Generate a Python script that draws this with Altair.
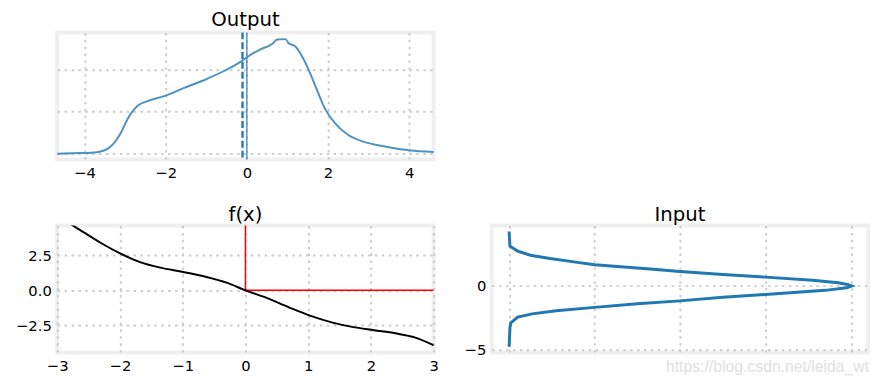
import altair as alt
import pandas as pd

FONT = "DejaVu Sans"
W, H = 382, 129
LS = 15  # tick label size

# ---- Output panel (density of f(input)) ----
out_x = [-4.67, -4.3, -3.82, -3.5, -3.3, -3.13, -2.93, -2.69, -2.45, -2.04, -1.56, -0.99,
         -0.5, -0.14, 0.02, 0.30, 0.63, 0.75, 0.95, 1.03, 1.19, 1.44, 1.68, 1.92, 2.17,
         2.49, 2.89, 3.46, 4.0, 4.6]
out_y = [0.0, 0.001, 0.002, 0.008, 0.022, 0.045, 0.084, 0.114, 0.125, 0.137, 0.156, 0.178,
         0.2, 0.22, 0.231, 0.247, 0.262, 0.272, 0.273, 0.263, 0.256, 0.217, 0.163, 0.108,
         0.073, 0.045, 0.028, 0.016, 0.008, 0.004]
out_mean = [-0.107]
out_zero = [0.0]

# ---- f(x) panel ----
fx_x = [-3.0, -2.71, -2.31, -2.0, -1.68, -1.36, -0.99, -0.62, -0.30, 0.0, 0.33, 0.70, 1.04,
        1.39, 1.70, 2.05, 2.39, 2.71, 3.0]
fx_y = [5.35, 4.55, 3.42, 2.66, 2.03, 1.63, 1.32, 0.96, 0.55, 0.0, -0.53, -1.24, -1.84,
        -2.32, -2.63, -2.87, -3.09, -3.40, -3.95]
red_x = [0.0, 0.0, 3.0]
red_y = [5.0, 0.0, 0.0]

# ---- Input panel (density of input, drawn sideways) ----
in_val = [4.28, 3.13, 2.74, 2.41, 2.15, 1.85, 1.67, 1.33, 1.13, 0.90, 0.69, 0.45, 0.25, 0.10,
          0.0, -0.15, -0.35, -0.67, -0.90, -1.18, -1.40, -1.69, -1.95, -2.20, -2.46, -2.90,
          -3.28, -4.80]
in_dens = [0.0, 0.001, 0.01, 0.025, 0.048, 0.08, 0.1, 0.165, 0.2, 0.25, 0.3, 0.355, 0.385,
           0.397, 0.401, 0.395, 0.37, 0.3, 0.25, 0.2, 0.15, 0.1, 0.055, 0.027, 0.01, 0.002,
           0.001, 0.0]

watermark = "https://blog.csdn.net/leida_wt"


def ttl(t):
    return alt.TitleParams(t, font=FONT, fontSize=20, fontWeight="normal", color="black",
                           anchor="middle", offset=1)


def ax(values, fmt=None, labels=True):
    kw = dict(values=values, title=None, labels=labels, domain=False, ticks=False,
              labelFont=FONT, labelFontSize=LS, labelColor="black", labelPadding=6,
              labelFlush=False, labelOverlap=False,
              gridColor="#cbcbcb", gridDash=[2.5, 4.5], gridWidth=2)
    if fmt:
        kw["format"] = fmt
    return alt.Axis(**kw)


# Output
out_df = pd.DataFrame({"x": out_x, "y": out_y})
ox = alt.Scale(domain=[-4.67, 4.60], nice=False, zero=False)
oy = alt.Scale(domain=[-0.014, 0.289], nice=False, zero=False)
output_line = alt.Chart(out_df).mark_line(color="#4c92c3", strokeWidth=2,
                                          interpolate="monotone").encode(
    x=alt.X("x:Q", scale=ox, axis=ax([-4, -2, 0, 2, 4], "d")),
    y=alt.Y("y:Q", scale=oy, axis=ax([0, 0.1, 0.2], labels=False)),
)
mean_rule = alt.Chart(pd.DataFrame({"x": out_mean})).mark_rule(
    color="#2b7bba", strokeWidth=2.5, strokeDash=[7, 3]).encode(x=alt.X("x:Q", scale=ox))
zero_rule = alt.Chart(pd.DataFrame({"x": out_zero})).mark_rule(
    color="#3a85bf", strokeWidth=1.3).encode(x=alt.X("x:Q", scale=ox))
output = alt.layer(output_line, mean_rule, zero_rule).properties(
    width=W, height=H, title=ttl("Output"))

# blank cell
blank = alt.Chart(pd.DataFrame({"x": [0]})).mark_text(text="").encode(
    x=alt.value(0)).properties(width=W, height=H, view=alt.ViewBackground(stroke="transparent"))

# f(x)
fx_df = pd.DataFrame({"x": fx_x, "y": fx_y})
red_df = pd.DataFrame({"x": red_x, "y": red_y, "o": list(range(len(red_x)))})
fxs = alt.Scale(domain=[-3, 3], nice=False, zero=False)
fys = alt.Scale(domain=[-4.48, 4.66], nice=False, zero=False)
fx_line = alt.Chart(fx_df).mark_line(color="black", strokeWidth=2, clip=True,
                                     interpolate="monotone").encode(
    x=alt.X("x:Q", scale=fxs, axis=ax([-3, -2, -1, 0, 1, 2, 3], "d")),
    y=alt.Y("y:Q", scale=fys, axis=ax([-2.5, 0, 2.5], ".1f")),
)
red_line = alt.Chart(red_df).mark_line(color="#ff0000", strokeWidth=1.5, clip=True).encode(
    x=alt.X("x:Q", scale=fxs), y=alt.Y("y:Q", scale=fys), order="o:Q")
fx = alt.layer(red_line, fx_line).properties(width=W, height=H, title=ttl("f(x)"))

# Input
in_df = pd.DataFrame({"d": in_dens, "v": in_val, "o": list(range(len(in_val)))})
ixs = alt.Scale(domain=[-0.0203, 0.4201], nice=False, zero=False)
iys = alt.Scale(domain=[-5.25, 4.75], nice=False, zero=False)
in_line = alt.Chart(in_df).mark_line(color="#1f77b4", strokeWidth=3).encode(
    x=alt.X("d:Q", scale=ixs, axis=ax([0, 0.1, 0.2, 0.3, 0.4], labels=False)),
    y=alt.Y("v:Q", scale=iys, axis=ax([-5, 0], "d")),
    order="o:Q",
)
wm = alt.Chart(pd.DataFrame({"t": [watermark]})).mark_text(
    font="Liberation Sans", fontSize=16, color="#e0e0e0", align="right", baseline="alphabetic"
).encode(text="t:N", x=alt.value(W + 1), y=alt.value(H + 20))
inp = alt.layer(in_line, wm).properties(width=W, height=H, title=ttl("Input"))

chart = alt.concat(output, blank, fx, inp, columns=2, spacing={"row": 21, "column": 21}).properties(
    padding={"left": 5, "top": -3, "right": 5, "bottom": 0}
).configure_view(stroke="#efefef", strokeWidth=4)

chart.save("out.html", embed_options={"renderer": "svg", "actions": False})
